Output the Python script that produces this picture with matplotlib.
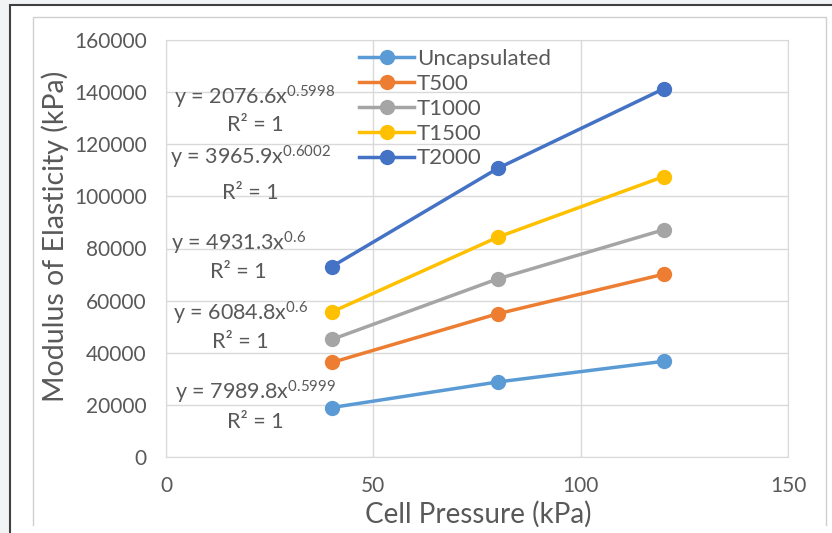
import matplotlib
matplotlib.use("Agg")
import matplotlib.pyplot as plt
from matplotlib.patches import Rectangle
from matplotlib.lines import Line2D

plt.rcParams["font.family"] = ["Lato", "DejaVu Sans"]
plt.rcParams["mathtext.default"] = "regular"

pression = [40, 80, 120]
series = ["Uncapsulated", "T500", "T1000", "T1500", "T2000"]
uncapsulated = [18980, 28790, 36720]
t500 = [36270, 54970, 70120]
t1000 = [45100, 68350, 87180]
t1500 = [55650, 84340, 107580]
t2000 = [73070, 110740, 141260]
valeurs = [uncapsulated, t500, t1000, t1500, t2000]
couleurs = ["#5B9BD5", "#ED7D31", "#A5A5A5", "#FFC000", "#4472C4"]

equations = [
    ("y = 2076.6x$^{0.5998}$", 21.5, 138100, 127400),
    ("y = 3965.9x$^{0.6002}$", 20.3, 115100, 101300),
    ("y = 4931.3x$^{0.6}$", 17.5, 82100, 71000),
    ("y = 6084.8x$^{0.6}$", 18.0, 55250, 44100),
    ("y = 7989.8x$^{0.5999}$", 21.5, 24900, 13400),
]

gris = "#595959"

fig = plt.figure(figsize=(8.32, 5.33), dpi=100)
fig.patch.set_facecolor("#f2f3f5")
# cadre extérieur
fig.add_artist(Rectangle((10 / 832, -0.01), 0.99, 1 - 5 / 533 + 0.01,
                         transform=fig.transFigure, facecolor="white",
                         edgecolor="#404040", lw=1.5, zorder=-2))
fig.add_artist(Line2D([33 / 832, 33 / 832, 826 / 832, 826 / 832],
                      [1 - 525 / 533, 1 - 17 / 533, 1 - 17 / 533, 1 - 525 / 533],
                      transform=fig.transFigure, color="#d0d0d0", lw=1, zorder=-1))

ax = fig.add_axes([166 / 832, 1 - 457 / 533, 622 / 832, 417 / 533])
for nom, y, c in zip(series, valeurs, couleurs):
    ax.plot(pression, y, color=c, lw=2.5, marker="o", markersize=10, label=nom)

ax.set_xlim(0, 150)
ax.set_ylim(0, 160000)
ax.set_xticks([0, 50, 100, 150])
ax.set_yticks(range(0, 160001, 20000))
ax.grid(True, color="#d9d9d9", lw=1)
ax.set_axisbelow(True)
for s in ax.spines.values():
    s.set_color("#d9d9d9")
ax.tick_params(length=0, labelsize=15, colors=gris, pad=14)
ax.tick_params(axis="x", pad=14)

for texte, x, y1, y2 in equations:
    ax.text(x, y1, texte, ha="center", va="center", fontsize=15.5, color=gris)
    ax.text(x, y2, "R² = 1", ha="center", va="center", fontsize=15.5, color=gris)

fig.text(478 / 832, 1 - 514 / 533, "Cell Pressure (kPa)", ha="center", va="center",
         fontsize=20, color=gris)
fig.text(55 / 832, 1 - 236 / 533, "Modulus of Elasticity (kPa)", ha="center", va="center",
         rotation=90, fontsize=20.5, color=gris)

ax.legend(loc="upper left", bbox_to_anchor=(350 / 832, 1 - 40 / 533),
          bbox_transform=fig.transFigure, frameon=False, fontsize=16,
          labelcolor=gris, handlelength=2.5, handletextpad=0.1,
          labelspacing=0.22, borderaxespad=0)

fig.savefig("out.png", dpi=100, facecolor=fig.get_facecolor())
